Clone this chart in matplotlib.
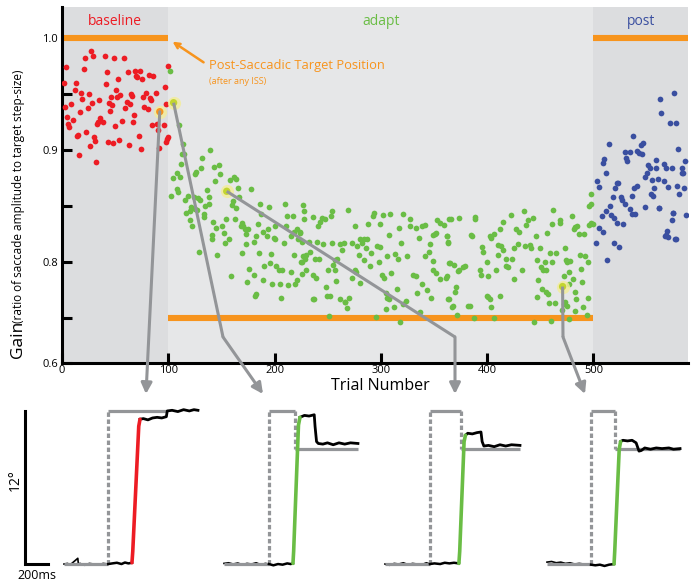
import numpy as np
import matplotlib
matplotlib.use('Agg')
import matplotlib.pyplot as plt

plt.rcParams['font.family'] = ['Open Sans', 'DejaVu Sans']

W, H = 695, 587

# ---- gain per trial ----
baseline_trial = [27, 29, 22, 40, 49, 58, 21, 4, 42, 62, 69, 73, 70, 71, 75, 82, 86, 100, 2, 13,
                  41, 53, 97, 12, 18, 25, 51, 65, 79, 88, 52, 55, 66, 83, 84, 19, 46, 35, 28, 44,
                  47, 61, 64, 76, 8, 3, 24, 59, 77, 81, 45, 17, 98, 5, 10, 36, 34, 39, 56, 68,
                  67, 33, 6, 7, 50, 85, 89, 96, 90, 23, 72, 14, 15, 30, 31, 43, 48, 54, 63, 26,
                  74, 91, 99, 98, 16, 32, 100]
baseline_gain = [0.988, 0.984, 0.982, 0.984, 0.982, 0.982, 0.972, 0.974, 0.969, 0.969, 0.970, 0.970,
                 0.966, 0.965, 0.963, 0.967, 0.966, 0.975, 0.960, 0.960, 0.959, 0.963, 0.956, 0.953,
                 0.951, 0.950, 0.953, 0.950, 0.951, 0.951, 0.947, 0.949, 0.948, 0.946, 0.944, 0.945,
                 0.947, 0.944, 0.942, 0.942, 0.940, 0.943, 0.941, 0.947, 0.941, 0.938, 0.937, 0.937,
                 0.938, 0.936, 0.935, 0.934, 0.941, 0.929, 0.927, 0.928, 0.925, 0.925, 0.926, 0.931,
                 0.925, 0.923, 0.923, 0.920, 0.921, 0.922, 0.923, 0.922, 0.918, 0.916, 0.912, 0.912,
                 0.913, 0.911, 0.908, 0.907, 0.906, 0.909, 0.904, 0.903, 0.901, 0.902, 0.910, 0.907,
                 0.895, 0.889, 0.911]

adapt_trial = [102, 110, 114, 113, 115, 112, 104, 108, 111, 108, 109, 103, 119, 116, 124, 128, 130,
               121, 125, 117, 120, 127, 134, 135, 138, 136, 138, 139, 132, 131, 126, 125, 143, 148,
               149, 144, 134, 120, 122, 129, 146, 142, 145, 151, 154, 152, 141, 141, 157, 153, 159,
               158, 162, 164, 166, 167, 161, 160, 164, 178, 163, 169, 170, 172, 168, 175, 173, 173,
               169, 184, 183, 181, 189, 193, 194, 185, 176, 181, 174, 189, 183, 190, 197, 198, 196,
               201, 204, 207, 205, 206, 215, 213, 219, 221, 186, 187, 195, 200, 199, 200, 210, 212,
               217, 211, 218, 209, 215, 221, 218, 227, 228, 224, 226, 222, 225, 227, 226,
               228, 236, 224, 232, 240, 246, 233, 230, 226, 229, 238, 242, 230, 236, 239, 248, 237,
               249, 252, 243, 245, 241, 247, 254, 253, 269, 254, 257, 259, 255, 250, 257, 258, 262,
               266, 270, 268, 263, 262, 265, 273, 278, 282, 280, 284, 287, 286, 279, 284, 291, 296,
               299, 276, 288, 294, 293, 299, 302, 309, 321, 308, 317, 327, 327, 333, 339, 342, 336,
               319, 325, 313, 316, 306, 298, 290, 276, 277, 273, 280, 301, 303, 310, 315, 306, 305,
               308, 312, 305, 324, 321, 318, 295, 251, 330, 333, 334, 339, 343, 337, 347, 342, 345,
               346, 349, 349, 352, 351, 353, 356, 359, 349, 352, 362, 363, 364, 356, 361, 364, 363,
               182, 236, 266,
               366, 374, 389, 389, 362, 363, 385, 386, 365, 369, 374, 377, 379, 373, 362, 371, 370,
               364, 368, 367, 382, 384, 372, 388, 406, 401, 403, 404, 412, 400, 393, 394, 401, 396,
               395, 400, 408, 404, 403, 406, 412, 415, 422, 410, 413, 415, 410, 418, 423, 420, 418,
               425, 429, 427, 430, 435, 438, 443, 437, 436, 440, 441, 433, 425, 446, 450, 456, 447,
               454, 461, 451, 453, 455, 459, 465, 473, 462, 461, 469, 469, 480, 483, 485, 482, 486,
               491, 474, 478, 475, 487, 492, 495, 477, 472, 481, 488, 448, 452, 455, 457, 447, 458,
               464, 472, 473, 470, 475, 477, 483, 489, 484, 495, 490, 483, 494, 444, 460, 477, 498,
               498, 496, 498, 500, 496]
adapt_gain = [0.970, 0.922, 0.905, 0.896, 0.896, 0.887, 0.875, 0.879, 0.876, 0.865, 0.862, 0.859,
              0.859, 0.855, 0.858, 0.857, 0.855, 0.849, 0.847, 0.844, 0.845, 0.846, 0.843, 0.850,
              0.852, 0.864, 0.858, 0.900, 0.893, 0.884, 0.880, 0.878, 0.885, 0.886, 0.878, 0.872,
              0.840, 0.837, 0.832, 0.809, 0.806, 0.836, 0.830, 0.832, 0.838, 0.826, 0.824, 0.820,
              0.820, 0.817, 0.787, 0.873, 0.876, 0.874, 0.866, 0.858, 0.854, 0.851, 0.848, 0.865,
              0.838, 0.835, 0.832, 0.829, 0.832, 0.829, 0.825, 0.816, 0.808, 0.834, 0.823, 0.818,
              0.827, 0.823, 0.829, 0.808, 0.794, 0.788, 0.782, 0.784, 0.771, 0.796, 0.807, 0.780,
              0.799, 0.796, 0.793, 0.793, 0.780, 0.768, 0.791, 0.779, 0.780, 0.784, 0.852, 0.843,
              0.849, 0.832, 0.821, 0.820, 0.852, 0.841, 0.841, 0.832, 0.827, 0.817, 0.823, 0.829,
              0.806, 0.851, 0.838, 0.827, 0.818, 0.820, 0.800, 0.805, 0.789,
              0.845, 0.840, 0.826, 0.818, 0.818, 0.816, 0.809, 0.806, 0.800, 0.803, 0.803, 0.803,
              0.793, 0.788, 0.786, 0.778, 0.767, 0.770, 0.770, 0.836, 0.839, 0.832, 0.838, 0.845,
              0.841, 0.846, 0.817, 0.802, 0.803, 0.797, 0.793, 0.793, 0.783, 0.767, 0.764, 0.768,
              0.759, 0.811, 0.816, 0.817, 0.817, 0.814, 0.817, 0.820, 0.820, 0.820, 0.812, 0.806,
              0.802, 0.808, 0.814, 0.813, 0.832, 0.834, 0.844, 0.841, 0.834, 0.842, 0.843, 0.843,
              0.824, 0.830, 0.838, 0.832, 0.830, 0.832, 0.833, 0.821, 0.817, 0.805, 0.807, 0.803,
              0.805, 0.800, 0.796, 0.793, 0.791, 0.786, 0.781, 0.788, 0.786, 0.790, 0.776, 0.768,
              0.772, 0.767, 0.760, 0.758, 0.765, 0.762, 0.746, 0.751, 0.752, 0.788, 0.787, 0.772,
              0.780, 0.775, 0.755, 0.768, 0.805, 0.809, 0.816, 0.801, 0.793, 0.790, 0.825, 0.837,
              0.835, 0.833, 0.824, 0.826, 0.823, 0.817, 0.838, 0.785, 0.786, 0.799, 0.767,
              0.770, 0.767, 0.764,
              0.838, 0.839, 0.840, 0.838, 0.823, 0.818, 0.824, 0.823, 0.799, 0.797, 0.793, 0.795,
              0.796, 0.792, 0.787, 0.778, 0.773, 0.767, 0.761, 0.760, 0.761, 0.761, 0.753, 0.750,
              0.750, 0.769, 0.767, 0.760, 0.770, 0.770, 0.793, 0.788, 0.787, 0.809, 0.813, 0.800,
              0.793, 0.821, 0.823, 0.825, 0.829, 0.836, 0.842, 0.815, 0.814, 0.811, 0.806, 0.803,
              0.803, 0.795, 0.796, 0.812, 0.816, 0.829, 0.827, 0.845, 0.837, 0.839, 0.833, 0.814,
              0.815, 0.812, 0.793, 0.785, 0.823, 0.812, 0.826, 0.802, 0.800, 0.800, 0.795, 0.793,
              0.793, 0.808, 0.808, 0.812, 0.846, 0.834, 0.837, 0.835, 0.841, 0.831, 0.832, 0.829,
              0.825, 0.825, 0.802, 0.801, 0.800, 0.806, 0.805, 0.800, 0.791, 0.787, 0.785, 0.794,
              0.784, 0.776, 0.773, 0.771, 0.769, 0.763, 0.763, 0.762, 0.764, 0.757, 0.761, 0.780,
              0.773, 0.782, 0.767, 0.768, 0.760, 0.756, 0.753, 0.746, 0.747, 0.749, 0.861, 0.852,
              0.850, 0.835, 0.834, 0.833]

post_trial = [576, 563, 564, 572, 578, 537, 547, 545, 515, 580, 530, 534, 541, 543, 546, 531, 532,
              510, 509, 559, 586, 551, 553, 559, 566, 568, 574, 583, 512, 550, 549, 555, 561, 566,
              583, 584, 522, 523, 503, 505, 520, 541, 538, 557, 570, 579, 585, 581, 554, 556, 536,
              518, 526, 527, 530, 516, 512, 508, 517, 519, 534, 536, 539, 549, 562, 575, 587, 522,
              528, 574, 569, 567, 570, 578, 505, 509, 502, 519, 524, 513, 577, 568, 575, 562]
post_gain = [0.951, 0.945, 0.933, 0.924, 0.924, 0.912, 0.906, 0.904, 0.905, 0.901, 0.898, 0.898,
             0.899, 0.897, 0.896, 0.893, 0.890, 0.892, 0.888, 0.891, 0.890, 0.886, 0.884, 0.884,
             0.887, 0.884, 0.884, 0.884, 0.879, 0.879, 0.876, 0.873, 0.874, 0.872, 0.879, 0.879,
             0.870, 0.870, 0.872, 0.867, 0.866, 0.868, 0.866, 0.866, 0.867, 0.868, 0.866, 0.861,
             0.861, 0.859, 0.859, 0.858, 0.858, 0.855, 0.852, 0.850, 0.845, 0.841, 0.842, 0.839,
             0.847, 0.843, 0.843, 0.849, 0.848, 0.844, 0.842, 0.835, 0.834, 0.837, 0.828, 0.823,
             0.822, 0.820, 0.830, 0.827, 0.817, 0.817, 0.813, 0.802, 0.820, 0.824, 0.844, 0.848]

# trials shown below as eye traces
hl_trial = [92, 105, 155, 471]
hl_gain = [0.934, 0.942, 0.863, 0.778]
hl_color = ['#f7941d', '#c3d52f', '#c3d52f', '#c3d52f']

phases = ['baseline', 'adapt', 'post']
phase_start = [0, 100, 500]
phase_end = [100, 500, 589]
phase_target = [1.0, 0.75, 1.0]
phase_color = ['#ed1c24', '#6abd45', '#3a4fa0']
phase_bg = ['#dcdddf', '#e6e7e8', '#dcdddf']

# ---- eye traces (ms, deg) ----
eye_t = [
    [0, 30, 55, 120, 125, 140, 180, 220, 260, 300, 340, 385, 420, 460, 500, 530, 560, 591,
     598, 650, 661, 690, 730, 770, 810, 850, 890, 898, 940, 990, 1040, 1090, 1130, 1165],
    [0, 40, 80, 120, 160, 200, 240, 280, 320, 360, 391, 430, 470, 510, 550, 580, 600, 606,
     648, 661, 700, 740, 785, 792, 805, 820, 860, 900, 950, 1000, 1050, 1100, 1165],
    [0, 40, 80, 120, 160, 200, 240, 280, 320, 360, 391, 430, 480, 520, 560, 600, 643, 650,
     688, 700, 720, 760, 800, 835, 845, 860, 900, 950, 1000, 1050, 1100, 1174],
    [0, 40, 80, 120, 160, 200, 240, 280, 320, 383, 420, 460, 500, 540, 583, 589, 628, 640,
     660, 700, 740, 775, 800, 820, 850, 900, 950, 1000, 1060, 1100, 1157],
]
eye_deg = [
    [0, 0.05, -0.05, 0.45, 0.0, 0.05, -0.1, 0.05, 0, -0.08, 0.05, 0.0, 0.05, 0.1, 0.0, 0.12,
     0.05, 0.1, 1.0, 10.8, 11.35, 11.4, 11.3, 11.45, 11.5, 11.45, 11.55, 12.0, 12.05, 11.95,
     12.1, 12.0, 12.1, 12.05],
    [0.05, 0.1, 0.0, 0.08, -0.05, 0.05, 0.0, 0.1, -0.05, 0.05, 0.0, -0.1, 0.0, -0.05, 0.05,
     0.0, 0.05, 1.0, 10.9, 11.5, 11.65, 11.6, 11.7, 10.8, 9.6, 9.45, 9.4, 9.5, 9.35, 9.5, 9.4,
     9.5, 9.45],
    [0.0, -0.1, 0.05, 0.0, 0.1, -0.05, 0.05, 0.0, -0.05, 0.1, 0.0, 0.05, 0.0, 0.1, 0.05, 0.1,
     0.05, 1.0, 9.6, 10.1, 10.25, 10.2, 10.3, 10.35, 9.6, 9.25, 9.3, 9.2, 9.35, 9.25, 9.35, 9.3],
    [0.15, 0.2, 0.1, 0.15, 0.05, 0.1, 0.0, 0.05, 0.0, -0.05, -0.1, -0.05, -0.15, -0.05, 0.0,
     1.0, 9.0, 9.6, 9.7, 9.65, 9.7, 9.5, 8.85, 8.9, 9.1, 9.0, 9.1, 9.05, 9.1, 9.0, 9.05],
]
sacc_on = [591, 600, 643, 583]
sacc_off = [661, 661, 700, 640]
sacc_color = ['#ed1c24', '#6abd45', '#6abd45', '#6abd45']
tgt_times = [[0, 385, 896], [0, 391, 617, 1165], [0, 391, 661, 1174], [0, 383, 591, 1157]]
tgt_levels = [[0, 12], [0, 12, 9], [0, 12, 9], [0, 12, 9]]
panel_offset = [0, 1391, 2791, 4200]

orange = '#f7941d'
gray = '#939598'

fig = plt.figure(figsize=(W / 100, H / 100), dpi=100)

# ================= main gain plot =================
ax = fig.add_axes([62 / W, 1 - 363 / H, 626 / W, 356 / H])
ax.set_xlim(0, 589)
ax.set_ylim(0.7098, 1.0274)

for a, b, bg in zip(phase_start, phase_end, phase_bg):
    ax.axvspan(a, b, color=bg, lw=0, zorder=0)
ax.hlines(phase_target, phase_start, phase_end, color=orange, lw=4.4, zorder=2,
          capstyle='butt')

ax.scatter(baseline_trial, baseline_gain, s=17, color=phase_color[0], lw=0, zorder=3)
ax.scatter(adapt_trial, adapt_gain, s=17, color=phase_color[1], lw=0, zorder=3)
ax.scatter(post_trial, post_gain, s=17, color=phase_color[2], lw=0, zorder=3)

ax.scatter(hl_trial, hl_gain, s=90, color='#f2ec9c', alpha=0.85, lw=0, zorder=4)
ax.scatter(hl_trial, hl_gain, s=28, color=hl_color, lw=0, zorder=5)

for a, b, name, c in zip(phase_start, phase_end, phases, phase_color):
    ax.text((a + b) / 2, 1.0143, name, color=c, fontsize=10, ha='center', va='center')

ax.annotate('Post-Saccadic Target Position', xy=(104, 0.9965), xytext=(138, 0.975),
            color=orange, fontsize=9.3, ha='left', va='center',
            arrowprops=dict(arrowstyle='->', color=orange, lw=1.8, shrinkA=2, shrinkB=0,
                            relpos=(0, 0.5)))
ax.text(138, 0.9605, '(after any ISS)', color=orange, fontsize=6.5, ha='left', va='center')

for side in ['top', 'right']:
    ax.spines[side].set_visible(False)
for side in ['left', 'bottom']:
    ax.spines[side].set_linewidth(2.2)
ax.set_xticks([0, 100, 200, 300, 400, 500])
ax.set_yticks([0.7098, 0.75, 0.8, 0.85, 0.9, 0.95, 1.0])
ax.set_yticklabels(['0.6', '', '0.8', '', '0.9', '', '1.0'])
ax.tick_params(direction='in', length=7, width=2.2, labelsize=8, pad=3)
ax.tick_params(axis='x', pad=1.5)

fig.text(380 / W, 1 - 386 / H, 'Trial Number', ha='center', va='center', fontsize=11.5)
fig.text(18 / W, 1 - 358 / H, 'Gain', rotation=90, ha='center', va='bottom', fontsize=12.5)
fig.text(19 / W, 1 - 323 / H, '(ratio of saccade amplitude to target step-size)',
         rotation=90, ha='center', va='bottom', fontsize=8.5)

# ================= eye traces =================
tax = fig.add_axes([0, 0, 1, 192 / H])
tax.set_xlim(-556.5, 5487)
tax.set_ylim(-1.80, 13.25)
tax.axis('off')

for k in range(4):
    off = panel_offset[k]
    tt = np.array(tgt_times[k]) + off
    lv = tgt_levels[k]
    for i, level in enumerate(lv):
        tax.plot([tt[i], tt[i + 1]], [level, level], color=gray, lw=2.3,
                 solid_capstyle='butt', zorder=2)
    for i in range(1, len(lv)):
        tax.plot([tt[i], tt[i]], [lv[i - 1], lv[i]], color=gray, lw=2.3,
                 ls=(0, (1.4, 0.8)), zorder=2)

    t = np.array(eye_t[k])
    d = np.array(eye_deg[k])
    step = tgt_times[k][1]
    m = t <= step
    tax.plot(t[m] + off, d[m], color='k', lw=1.2, zorder=1)
    m = (t >= step) & (t <= sacc_on[k])
    tax.plot(t[m] + off, d[m], color='k', lw=1.8, zorder=3)
    m = (t >= sacc_on[k]) & (t <= sacc_off[k])
    tax.plot(t[m] + off, d[m], color=sacc_color[k], lw=2.6, zorder=4,
             solid_capstyle='round')
    m = t >= sacc_off[k]
    tax.plot(t[m] + off, d[m], color='k', lw=2.0, zorder=3)

# scale bar
tax.plot([-339, -339, -139], [12, 0, 0], color='k', lw=2.2, solid_joinstyle='miter')
tax.text(-420, 6.6, '12°', rotation=90, ha='center', va='center', fontsize=10)
tax.text(-235, -0.9, '200ms', ha='center', va='center', fontsize=9)

# ================= connectors =================
ov = fig.add_axes([0, 0, 1, 1], zorder=5)
ov.set_xlim(0, W)
ov.set_ylim(H, 0)
ov.axis('off')

kinks = [None, (223, 337), (455, 337), (563, 337)]
tips = [(146, 394), (263, 394), (455, 394), (585, 394)]
to_ov = ov.transData.inverted()
for tr, g, kink, tip in zip(hl_trial, hl_gain, kinks, tips):
    sx, sy = to_ov.transform(ax.transData.transform((tr, g)))
    if kink is None:
        last = (sx, sy)
    else:
        ov.plot([sx, kink[0]], [sy, kink[1]], color=gray, lw=2.2, solid_capstyle='butt')
        last = kink
    ov.annotate('', xy=tip, xytext=last,
                arrowprops=dict(arrowstyle='-|>', color=gray, lw=2.2, mutation_scale=16,
                                shrinkA=0, shrinkB=0))

fig.savefig('out.png', dpi=100)
